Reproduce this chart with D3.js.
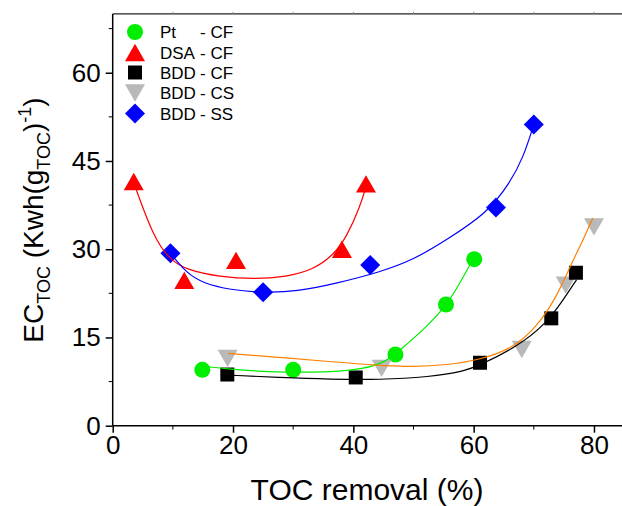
<!DOCTYPE html>
<html>
<head>
<meta charset="utf-8">
<script src="https://cdn.jsdelivr.net/npm/d3@7"></script>
<style>
  html, body { margin: 0; padding: 0; background: #fff; overflow: hidden; }
  svg { font-family: "Liberation Sans", Arial, sans-serif; display: block; }
</style>
</head>
<body>
<svg id="chart" width="622" height="506"></svg>
<script>
// measured points (TOC removal %, EC_TOC)
const ptX = [14.9, 30.0, 47.0, 55.4, 60.1];
const ptY = [9.5, 9.5, 12.1, 20.6, 28.3];
const dsaX = [3.5, 11.9, 20.5, 38.1, 42.1];
const dsaY = [41.5, 24.7, 28.1, 30.0, 41.1];
const cfX = [19.05, 40.4, 61.05, 72.9, 77.0];
const cfY = [8.7, 8.2, 10.7, 18.25, 26.0];
const csX = [19.1, 44.7, 68.0, 75.3, 80.0];
const csY = [11.45, 9.75, 12.95, 23.9, 33.8];
const ssX = [9.6, 25.0, 42.8, 63.7, 70.0];
const ssY = [29.3, 22.7, 27.3, 37.1, 51.2];

// fitted curves
const ptFitX = [15.0, 19.5, 25.0, 30.0, 36.1, 41.7, 45.5, 47.8, 52.2, 55.5, 57.7, 60.0];
const ptFitY = [10.1, 9.6, 9.2, 9.1, 9.1, 9.6, 10.9, 12.9, 16.8, 20.5, 24.2, 28.5];
const dsaFitX = [3.5, 6.75, 9.5, 12.3, 17.8, 23.4, 28.9, 33.3, 36.7, 38.9, 41.1, 42.1];
const dsaFitY = [41.3, 32.1, 28.2, 26.5, 25.3, 24.9, 25.3, 26.5, 29.0, 32.1, 37.2, 40.6];
const cfFitX = [19.3, 27.8, 36.1, 44.4, 52.7, 58.3, 61.05, 67.2, 72.1, 74.9, 77.1];
const cfFitY = [8.6, 8.2, 7.9, 7.8, 8.3, 9.2, 10.3, 13.4, 17.4, 21.4, 24.8];
const csFitX = [19.2, 27.8, 36.1, 43.3, 50.0, 55.5, 61.05, 66.6, 70.5, 73.8, 76.0, 78.2, 79.8];
const csFitY = [12.3, 11.6, 10.9, 10.3, 10.0, 10.3, 11.2, 13.2, 16.8, 21.9, 27.0, 31.6, 35.3];
const ssFitX = [9.6, 12.3, 15.1, 19.5, 25.0, 30.6, 37.2, 44.4, 50.0, 55.5, 62.2, 66.0, 68.3, 70.0];
const ssFitY = [29.3, 25.9, 24.2, 23.1, 22.6, 22.8, 24.2, 26.1, 28.2, 31.6, 36.1, 41.2, 45.7, 51.2];

const seriesNames = ["Pt", "DSA", "BDD", "BDD", "BDD"];
const seriesModes = ["CF", "CF", "CF", "CS", "SS"];
const xTicks = [0, 20, 40, 60, 80];
const yTicks = [0, 15, 30, 45, 60];

// bbox-centred marker shapes
const triUp = { draw(c, s) { const w = s / 2, h = s * 0.87 / 2; c.moveTo(0, -h); c.lineTo(w, h); c.lineTo(-w, h); c.closePath(); } };
const triDown = { draw(c, s) { const w = s / 2, h = s * 0.87 / 2; c.moveTo(0, h); c.lineTo(w, -h); c.lineTo(-w, -h); c.closePath(); } };
const square = { draw(c, s) { const h = s / 2; c.rect(-h, -h, s, s); } };
const diamond = { draw(c, s) { const h = s / 2; c.moveTo(0, -h); c.lineTo(h, 0); c.lineTo(0, h); c.lineTo(-h, 0); c.closePath(); } };
const circle = { draw(c, s) { const r = s / 2; c.moveTo(r, 0); c.arc(0, 0, r, 0, 2 * Math.PI); } };

const series = [
  { xs: ptX, ys: ptY, fx: ptFitX, fy: ptFitY, shape: circle, size: 16, fill: "#00ee00", line: "#00ee00" },
  { xs: dsaX, ys: dsaY, fx: dsaFitX, fy: dsaFitY, shape: triUp, size: 20, fill: "#ff0000", line: "#ff0000" },
  { xs: cfX, ys: cfY, fx: cfFitX, fy: cfFitY, shape: square, size: 14, fill: "#000000", line: "#000000" },
  { xs: csX, ys: csY, fx: csFitX, fy: csFitY, shape: triDown, size: 20, fill: "#b9b9b9", line: "#ff8000" },
  { xs: ssX, ys: ssY, fx: ssFitX, fy: ssFitY, shape: diamond, size: 20, fill: "#0000ff", line: "#0000ff" },
];

const svg = d3.select("#chart");
const x = d3.scaleLinear().domain([0, 85]).range([112.7, 112.7 + 85 * 6.016]);
const y = d3.scaleLinear().domain([0, 70]).range([425.7, 13.9]);

const sym = (shape, size) => d3.symbol().type(shape).size(size)();

// frame
svg.append("line").attr("x1", x(0)).attr("x2", 622).attr("y1", y(70)).attr("y2", y(70))
  .attr("stroke", "#222").attr("stroke-width", 1.4);
svg.append("g").selectAll("line").data(d3.range(10, 85, 10)).join("line")
  .attr("x1", d => x(d)).attr("x2", d => x(d)).attr("y1", y(70)).attr("y2", y(70) - 2)
  .attr("stroke", "#888").attr("stroke-width", 1);

const xAxis = svg.append("g").attr("transform", `translate(0,${y(0)})`)
  .call(d3.axisBottom(x).tickValues(xTicks).tickSize(7).tickPadding(3).tickSizeOuter(0));
xAxis.select(".domain").attr("d", `M${x(0)},0H622`);
xAxis.selectAll(".tick text").attr("font-size", 26).attr("fill", "#000");
xAxis.append("g").selectAll("line").data([10, 30, 50, 70]).join("line")
  .attr("x1", d => x(d)).attr("x2", d => x(d)).attr("y2", 4).attr("stroke", "#000");

const yAxis = svg.append("g").attr("transform", `translate(${x(0)},0)`)
  .call(d3.axisLeft(y).tickValues(yTicks).tickSize(7).tickPadding(5).tickSizeOuter(0));
yAxis.select(".domain").attr("d", `M0,${y(0)}V${y(70)}`);
yAxis.selectAll(".tick text").attr("font-size", 26).attr("fill", "#000");
yAxis.append("g").selectAll("line").data([7.5, 22.5, 37.5, 52.5, 67.5]).join("line")
  .attr("y1", d => y(d)).attr("y2", d => y(d)).attr("x2", -4).attr("stroke", "#000");
svg.selectAll(".domain, .tick line").attr("stroke", "#000").attr("stroke-width", 1.5);

// axis titles
svg.append("text").attr("x", 367).attr("y", 500).attr("text-anchor", "middle")
  .attr("font-size", 30).text("TOC removal (%)");

const yl = svg.append("text").attr("transform", "translate(43,220) rotate(-90)")
  .attr("text-anchor", "middle").attr("font-size", 28);
yl.append("tspan").text("EC");
yl.append("tspan").attr("font-size", 18).attr("dy", 7).text("TOC");
yl.append("tspan").attr("dy", -7).text(" (Kwh(g");
yl.append("tspan").attr("font-size", 18).attr("dy", 7).text("TOC");
yl.append("tspan").attr("dy", -7).text(")");
yl.append("tspan").attr("font-size", 18).attr("dy", -12).text("-1");
yl.append("tspan").attr("dy", 12).text(")");

// markers (gray before black so squares sit on top)
const drawOrder = [0, 1, 3, 2, 4];
drawOrder.forEach(i => {
  const s = series[i];
  svg.append("g").selectAll("path").data(s.xs.map((v, j) => [v, s.ys[j]])).join("path")
    .attr("d", sym(s.shape, s.size))
    .attr("transform", d => `translate(${x(d[0])},${y(d[1])})`)
    .attr("fill", s.fill);
});

// fitted lines
const line = d3.line().x(d => x(d[0])).y(d => y(d[1])).curve(d3.curveBasis);
series.forEach(s => {
  svg.append("path").datum(s.fx.map((v, j) => [v, s.fy[j]]))
    .attr("d", line).attr("fill", "none").attr("stroke", s.line).attr("stroke-width", 1.2);
});

// legend
const legend = svg.append("g");
const rowY = [32, 52.5, 72.5, 93, 113.5];
series.forEach((s, i) => {
  legend.append("path").attr("d", sym(s.shape, s.size))
    .attr("transform", `translate(135,${rowY[i]})`).attr("fill", s.fill);
  const t = legend.append("text").attr("y", rowY[i] + 6).attr("font-size", 17);
  t.append("tspan").attr("x", 160).text(seriesNames[i]);
  t.append("tspan").attr("x", 200).text("- " + seriesModes[i]);
});
</script>
</body>
</html>
